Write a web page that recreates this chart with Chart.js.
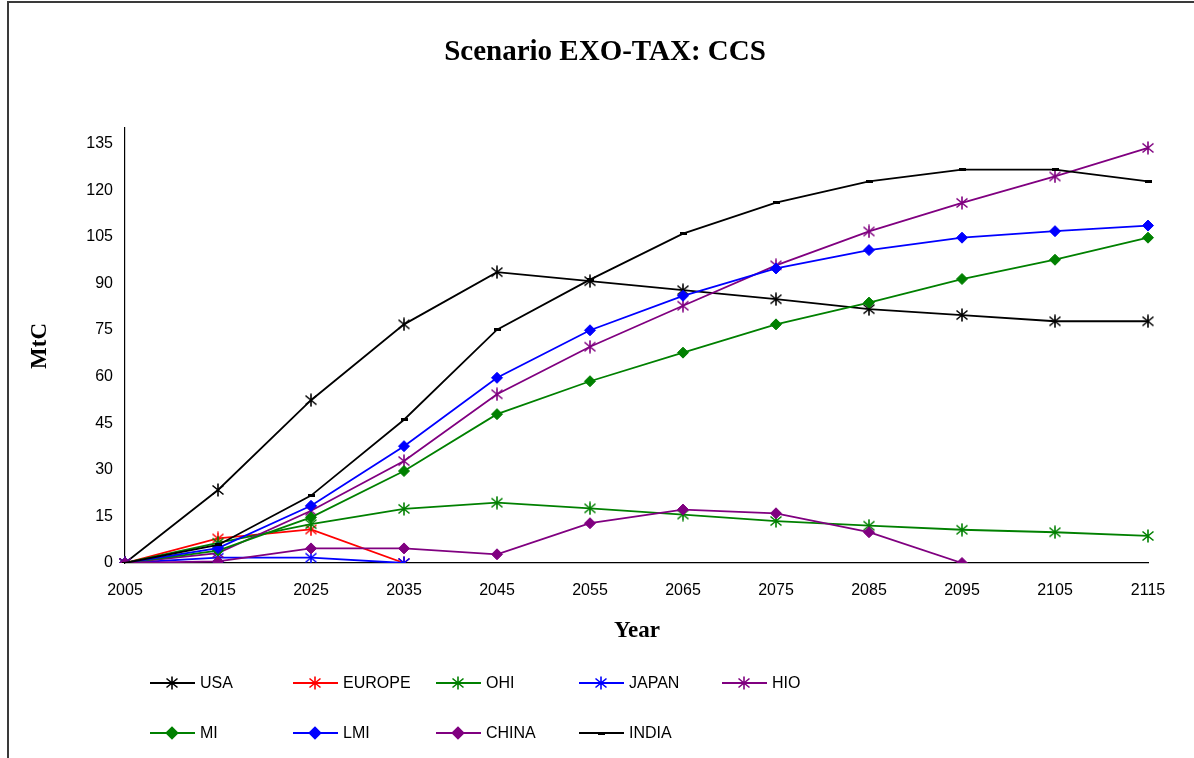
<!DOCTYPE html>
<html>
<head>
<meta charset="utf-8">
<script src="https://cdn.jsdelivr.net/npm/chart.js@4/dist/chart.umd.min.js"></script>
<style>
  html, body { margin: 0; padding: 0; background: #fff; }
  #wrap { position: relative; width: 1194px; height: 758px; overflow: hidden; }
  #frame { position: absolute; left: 7px; top: 1px; width: 1300px; height: 900px;
           border-left: 2px solid #3a3a3a; border-top: 2px solid #3a3a3a; }
  #c { position: absolute; left: 0; top: 0; }
</style>
</head>
<body>
<div id="wrap">
  <div id="frame"></div>
  <canvas id="c" width="1194" height="758"></canvas>
</div>
<script>
// Carbon captured (MtC) by region, 2005-2115
const years  = ['2005','2015','2025','2035','2045','2055','2065','2075','2085','2095','2105','2115'];
const usa    = [0, 23.5, 52.4, 76.8, 93.6, 90.7, 87.8, 84.9, 81.7, 79.8, 77.8, 77.8];
const europe = [0, 7.9, 10.8, 0, null, null, null, null, null, null, null, null];
const ohi    = [0, 6.5, 12.5, 17.4, 19.4, 17.6, 15.6, 13.5, 12.0, 10.7, 9.9, 8.7];
const japan  = [0, 1.7, 1.7, 0, null, null, null, null, null, null, null, null];
const hio    = [0, 3.2, 16.8, 32.8, 54.3, 69.6, 82.8, 95.8, 106.7, 115.9, 124.4, 133.6];
const mi     = [0, 4.0, 14.7, 29.6, 47.9, 58.5, 67.7, 76.8, 83.8, 91.4, 97.6, 104.7];
const lmi    = [0, 4.8, 18.4, 37.6, 59.6, 74.9, 86.0, 94.8, 100.7, 104.7, 106.8, 108.6];
const china  = [0, 0.5, 4.7, 4.7, 2.8, 12.8, 17.2, 16.0, 9.9, 0, null, null];
const india  = [0, 5.8, 21.7, 46.1, 75.1, 91.2, 106.0, 116.0, 122.8, 126.6, 126.6, 122.8];
const yTicks = [0, 15, 30, 45, 60, 75, 90, 105, 120, 135];

const titleText = 'Scenario EXO-TAX: CCS';
const xTitle = 'Year';
const yTitle = 'MtC';

const BLACK = '#000000', RED = '#ff0000', GREEN = '#008000', BLUE = '#0000ff', PURPLE = '#800080';

// six-armed asterisk marker
function asterisk(color) {
  const c = document.createElement('canvas');
  c.width = 14; c.height = 14;
  const g = c.getContext('2d');
  g.strokeStyle = color; g.lineWidth = 1.6;
  g.beginPath();
  g.moveTo(1.5, 2.5); g.lineTo(12.5, 11.5);
  g.moveTo(12.5, 2.5); g.lineTo(1.5, 11.5);
  g.moveTo(7, 0.5); g.lineTo(7, 13.5);
  g.stroke();
  return c;
}
// short horizontal bar marker
function bar(color) {
  const c = document.createElement('canvas');
  c.width = 7; c.height = 3;
  const g = c.getContext('2d');
  g.fillStyle = color; g.fillRect(0, 0, 7, 3);
  return c;
}

function starSeries(label, data, color) {
  return { label, data, borderColor: color, backgroundColor: color,
           pointStyle: asterisk(color), pointRadius: 7, borderWidth: 1.8 };
}
function diamondSeries(label, data, color) {
  return { label, data, borderColor: color, backgroundColor: color,
           pointBackgroundColor: color, pointBorderColor: color,
           pointStyle: 'rectRot', pointRadius: 5.5, pointBorderWidth: 1, borderWidth: 1.8 };
}

const datasets = [
  starSeries('USA', usa, BLACK),
  starSeries('EUROPE', europe, RED),
  starSeries('OHI', ohi, GREEN),
  starSeries('JAPAN', japan, BLUE),
  starSeries('HIO', hio, PURPLE),
  diamondSeries('MI', mi, GREEN),
  diamondSeries('LMI', lmi, BLUE),
  diamondSeries('CHINA', china, PURPLE),
  { label: 'INDIA', data: india, borderColor: BLACK, backgroundColor: BLACK,
    pointStyle: bar(BLACK), pointRadius: 4, borderWidth: 1.8 }
];
// later series sit on top of earlier ones
datasets.forEach((d, i) => { d.order = datasets.length - i; d.tension = 0; d.spanGaps = false; });

const SANS = '"Liberation Sans", Arial, sans-serif';
const SERIF = '"Liberation Serif", "Times New Roman", serif';

// fixed-grid legend (5 columns, 2 rows) plus titles
const decorations = {
  id: 'decorations',
  afterDraw(chart) {
    const ctx = chart.ctx;
    ctx.save();
    ctx.fillStyle = '#000';
    ctx.textAlign = 'center';
    ctx.textBaseline = 'middle';
    ctx.font = 'bold 29px ' + SERIF;
    ctx.fillText(titleText, 605, 53);
    ctx.font = 'bold 23px ' + SERIF;
    ctx.fillText(xTitle, 637, 631);
    ctx.save();
    ctx.translate(40, 346);
    ctx.rotate(-Math.PI / 2);
    ctx.font = 'bold 23px ' + SERIF;
    ctx.fillText(yTitle, 0, 0);
    ctx.restore();

    chart.data.datasets.forEach((ds, i) => {
      const col = i % 5, row = Math.floor(i / 5);
      const x0 = 150 + col * 143, y = 683 + row * 50;
      ctx.strokeStyle = ds.borderColor;
      ctx.lineWidth = ds.borderWidth;
      ctx.beginPath(); ctx.moveTo(x0, y); ctx.lineTo(x0 + 45, y); ctx.stroke();
      ctx.fillStyle = ds.pointBackgroundColor || ds.borderColor;
      ctx.strokeStyle = ds.pointBorderColor || ds.borderColor;
      Chart.helpers.drawPoint(ctx, {
        pointStyle: ds.pointStyle, radius: ds.pointRadius, borderWidth: ds.pointBorderWidth || 1, rotation: 0
      }, x0 + 22, y);
      ctx.fillStyle = '#000';
      ctx.textAlign = 'left';
      ctx.font = '16px ' + SANS;
      ctx.fillText(ds.label, x0 + 50, y + 1);
    });
    ctx.restore();
  }
};

new Chart(document.getElementById('c'), {
  type: 'line',
  data: { labels: years, datasets },
  options: {
    responsive: false,
    animation: false,
    devicePixelRatio: 1,
    layout: { padding: { top: 128, right: 46, left: 0, bottom: 0 } },
    plugins: { legend: { display: false }, title: { display: false }, tooltip: { enabled: false } },
    scales: {
      x: {
        type: 'category',
        offset: false,
        grid: { display: false, drawTicks: false },
        border: { color: '#000', width: 1.2 },
        ticks: { color: '#000', font: { family: SANS, size: 16 }, padding: 18, maxRotation: 0, autoSkip: false },
        afterFit(s) { s.height = 195; }
      },
      y: {
        min: 0, max: 140,
        grid: { display: false, drawTicks: false },
        border: { color: '#000', width: 1.2 },
        ticks: { color: '#000', font: { family: SANS, size: 16 }, padding: 12 },
        afterBuildTicks(s) { s.ticks = yTicks.map(v => ({ value: v })); },
        afterFit(s) { s.width = 125; }
      }
    }
  },
  plugins: [decorations]
});
</script>
</body>
</html>
